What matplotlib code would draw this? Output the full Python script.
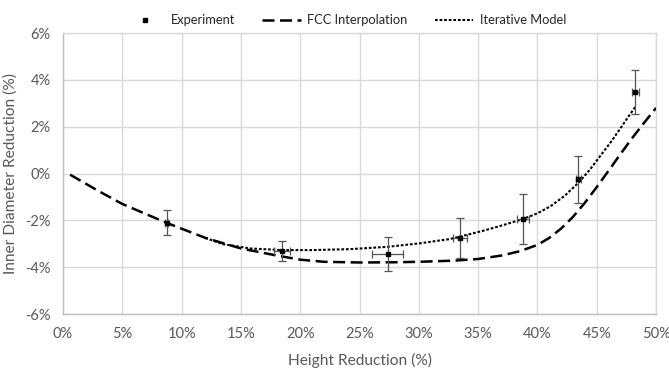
import matplotlib
matplotlib.use("Agg")
from matplotlib import pyplot as plt
from matplotlib.lines import Line2D
from matplotlib.ticker import FuncFormatter, MultipleLocator

plt.rcParams['font.family'] = ['Lato', 'DejaVu Sans']

# experiment points (height reduction %, inner diameter reduction %)
exp_x = [8.74, 18.44, 27.37, 33.47, 38.8, 43.45, 48.26]
exp_y = [-2.10, -3.31, -3.43, -2.77, -1.94, -0.25, 3.47]
exp_yerr = [0.53, 0.43, 0.73, 0.85, 1.06, 1.00, 0.93]
exp_xerr = [0.15, 0.66, 1.3, 0.6, 0.5, 0.2, 0.28]

# FCC interpolation curve
fcc_x = [0.6, 3, 5, 8.7, 12, 15, 18, 20, 22, 25, 28, 30, 33, 35, 37, 38.5,
         40, 41, 42, 43, 44, 45, 46, 47, 48, 49, 50]
fcc_y = [-0.05, -0.75, -1.3, -2.1, -2.75, -3.2, -3.5, -3.68, -3.77, -3.8, -3.79,
         -3.77, -3.72, -3.65, -3.5, -3.32, -3.05, -2.75, -2.35, -1.85, -1.25,
         -0.58, 0.12, 0.83, 1.52, 2.17, 2.8]

# iterative model curve
itm_x = [12, 13.5, 15.8, 18.4, 21, 24.2, 27.4, 30.1, 32.6, 35.4, 37, 38.8,
         40, 41.1, 42.3, 43.45, 44.4, 45.3, 46.2, 46.96, 47.6, 48.26]
itm_y = [-2.75, -3.02, -3.2, -3.27, -3.27, -3.23, -3.13, -2.98, -2.8, -2.45,
         -2.22, -1.94, -1.7, -1.4, -0.95, -0.4, 0.15, 0.75, 1.35, 1.9, 2.38, 2.85]

txt = '#595959'
grid = '#d9d9d9'

fig = plt.figure(figsize=(6.69, 3.68), dpi=100)
ax = fig.add_axes([0.0942, 0.1467, 0.8864, 0.7636])

ax.plot(fcc_x, fcc_y, color='black', lw=1.8, dashes=(4.8, 2.2), zorder=3)
ax.plot(itm_x, itm_y, color='black', lw=1.5, dashes=(1.3, 0.9), zorder=3)
ax.errorbar(exp_x, exp_y, yerr=exp_yerr, xerr=exp_xerr, fmt='s', ms=3.2,
            color='black', ecolor='#555555', elinewidth=0.9, capsize=3,
            capthick=0.9, zorder=4)

ax.set_xlim(0, 50)
ax.set_ylim(-6, 6)
ax.xaxis.set_major_locator(MultipleLocator(5))
ax.yaxis.set_major_locator(MultipleLocator(2))
ax.xaxis.set_major_formatter(FuncFormatter(lambda v, p: '{:.0f}%'.format(v)))
ax.yaxis.set_major_formatter(FuncFormatter(lambda v, p: '{:.0f}%'.format(v)))
ax.grid(True, color=grid, lw=1)
ax.set_axisbelow(True)
for s in ax.spines.values():
    s.set_color(grid)
    s.set_linewidth(1)
ax.spines['left'].set_color('#bfbfbf')
ax.spines['bottom'].set_color('#bfbfbf')
ax.tick_params(length=0, labelsize=10.5, labelcolor=txt, pad=9)

ax.set_xlabel('Height Reduction (%)', fontsize=11.2, color=txt, labelpad=9)
ax.set_ylabel('Inner Diameter Reduction (%)', fontsize=11.2, color=txt, labelpad=5)

handles = [
    Line2D([], [], ls='none', marker='s', ms=2.8, color='black'),
    Line2D([], [], color='black', lw=1.8, dashes=(4.8, 2.2)),
    Line2D([], [], color='black', lw=1.5, dashes=(1.3, 0.9)),
]
labels = ['Experiment', 'FCC Interpolation', 'Iterative Model']
leg = fig.legend(handles, labels, loc='center', bbox_to_anchor=(0.517, 0.945),
                 ncol=3, frameon=False, fontsize=9.3, handlelength=3,
                 columnspacing=2.1, handletextpad=0.5)
for t in leg.get_texts():
    t.set_color('#262626')

fig.savefig('out.png', dpi=100)
